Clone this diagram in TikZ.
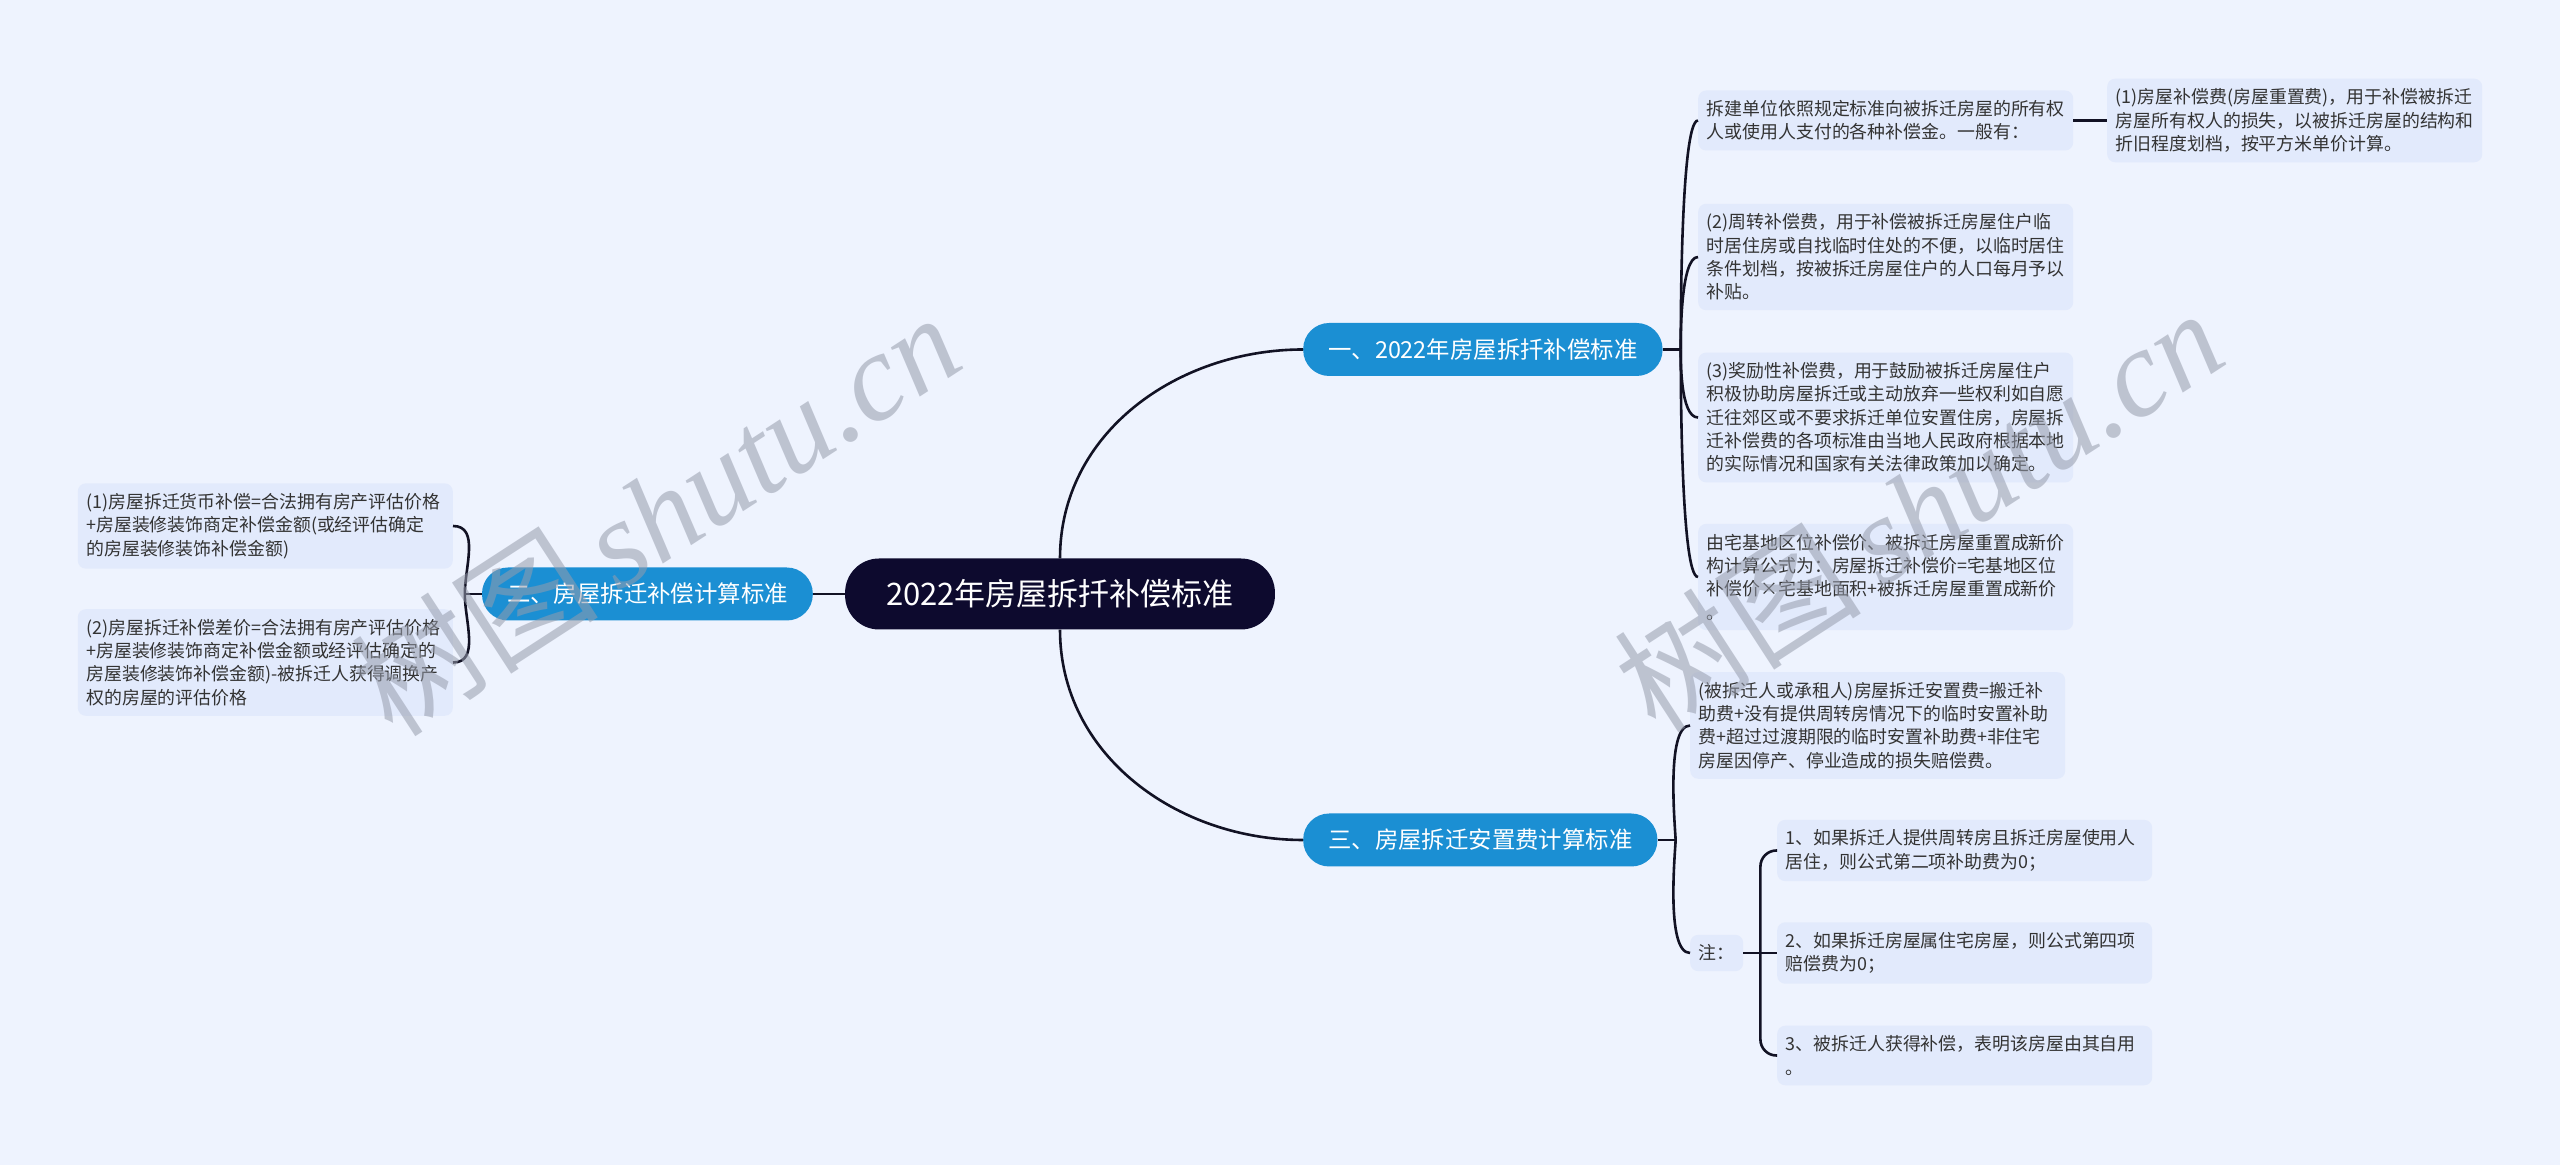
\documentclass[tikz,border=0pt]{standalone}
\usepackage{fontspec}
\setmainfont{Noto Sans CJK SC}
\newfontfamily\marklatin{Liberation Serif}
\usetikzlibrary{positioning}

\definecolor{bgblue}{RGB}{238,243,254}
\definecolor{leafblue}{RGB}{226,234,252}
\definecolor{topicblue}{RGB}{27,143,211}
\definecolor{rootnavy}{RGB}{13,10,46}
\definecolor{linkdark}{RGB}{18,18,36}
\definecolor{leaftext}{RGB}{51,51,51}
\definecolor{markgray}{RGB}{150,156,172}

\tikzset{
  root/.style={fill=rootnavy, text=white, rounded corners=34pt, minimum height=71pt,
    inner xsep=41pt, font=\fontsize{31}{36}\selectfont},
  topic/.style={fill=topicblue, text=white, rounded corners=26pt, minimum height=53pt,
    inner xsep=25pt, font=\fontsize{23.4}{28}\selectfont},
  leaf/.style={fill=leafblue, text=leaftext, rounded corners=8pt, align=left,
    text width=358pt, inner xsep=8.5pt, inner ysep=10pt,
    font=\fontsize{17.9}{23.3}\selectfont},
  link/.style={draw=linkdark, line width=2.6pt},
  wmark/.style={text=markgray, opacity=0.55, rotate=33, font=\fontsize{124}{134}\selectfont}
}

\begin{document}
\begin{tikzpicture}[x=1pt, y=1pt]
  \useasboundingbox (0,0) rectangle (2560,1165);
  \fill[bgblue] (0,0) rectangle (2560,1165);

  % centre and main topics
  \node[root] (root) at (1060,571) {2022年房屋拆扦补偿标准};
  \node[topic, anchor=west] (tp1) at (1303,815.5) {一、2022年房屋拆扦补偿标准};
  \node[topic, anchor=east] (tp2) at (813,571) {二、房屋拆迁补偿计算标准};
  \node[topic, anchor=west] (tp3) at (1303,325) {三、房屋拆迁安置费计算标准};

  % topic one
  \node[leaf, anchor=west] (p1) at (1698,1044.5) {拆建单位依照规定标准向被拆迁房屋的所有权\\人或使用人支付的各种补偿金。一般有：};
  \node[leaf, anchor=west] (p1a) at (2107,1044.5) {(1)房屋补偿费(房屋重置费)，用于补偿被拆迁\\房屋所有权人的损失，以被拆迁房屋的结构和\\折旧程度划档，按平方米单价计算。};
  \node[leaf, anchor=west] (p2) at (1698,908) {(2)周转补偿费，用于补偿被拆迁房屋住户临\\时居住房或自找临时住处的不便，以临时居住\\条件划档，按被拆迁房屋住户的人口每月予以\\补贴。};
  \node[leaf, anchor=west] (p3) at (1698,747.5) {(3)奖励性补偿费，用于鼓励被拆迁房屋住户\\积极协助房屋拆迁或主动放弃一些权利如自愿\\迁往郊区或不要求拆迁单位安置住房，房屋拆\\迁补偿费的各项标准由当地人民政府根据本地\\的实际情况和国家有关法律政策加以确定。};
  \node[leaf, anchor=west] (p4) at (1698,588) {由宅基地区位补偿价、被拆迁房屋重置成新价\\构计算公式为：房屋拆迁补偿价=宅基地区位\\补偿价×宅基地面积+被拆迁房屋重置成新价\\。};

  % topic two
  \node[leaf, anchor=east] (d1) at (453,639) {(1)房屋拆迁货币补偿=合法拥有房产评估价格\\+房屋装修装饰商定补偿金额(或经评估确定\\的房屋装修装饰补偿金额)};
  \node[leaf, anchor=east] (d2) at (453,502.5) {(2)房屋拆迁补偿差价=合法拥有房产评估价格\\+房屋装修装饰商定补偿金额或经评估确定的\\房屋装修装饰补偿金额)-被拆迁人获得调换产\\权的房屋的评估价格};

  % topic three
  \node[leaf, anchor=west] (q1) at (1690,439.5) {(被拆迁人或承租人)房屋拆迁安置费=搬迁补\\助费+没有提供周转房情况下的临时安置补助\\费+超过过渡期限的临时安置补助费+非住宅\\房屋因停产、停业造成的损失赔偿费。};
  \node[leaf, anchor=west, text width=36pt] (note) at (1690,212) {注：};
  \node[leaf, anchor=west] (n1) at (1777,314.5) {1、如果拆迁人提供周转房且拆迁房屋使用人\\居住，则公式第二项补助费为0；};
  \node[leaf, anchor=west] (n2) at (1777,212) {2、如果拆迁房屋属住宅房屋，则公式第四项\\赔偿费为0；};
  \node[leaf, anchor=west] (n3) at (1777,109.5) {3、被拆迁人获得补偿，表明该房屋由其自用\\。};

  % links
  \draw[link] (root.north) to[out=90,in=180] (tp1.west);
  \draw[link] (root.south) to[out=-90,in=180] (tp3.west);
  \draw[link] (root.west) -- (tp2.east);

  \coordinate (j1) at ([xshift=18pt]tp1.east);
  \draw[link] (tp1.east) -- (j1);
  \foreach \n/\a in {p1/90,p2/90,p3/-90,p4/-90}
    \draw[link] (j1) to[out=\a,in=180,out distance=8pt,in distance=18pt] (\n.west);
  \draw[link] (p1.east) -- (p1a.west);

  \coordinate (j2) at ([xshift=-17pt]tp2.west);
  \draw[link] (tp2.west) -- (j2);
  \draw[link] (j2) to[out=90,in=0] (d1.east);
  \draw[link] (j2) to[out=-90,in=0] (d2.east);

  \coordinate (j3) at ([xshift=18pt]tp3.east);
  \draw[link] (tp3.east) -- (j3);
  \draw[link] (j3) to[out=90,in=180,out distance=8pt,in distance=25pt] (q1.west);
  \draw[link] (j3) to[out=-90,in=180,out distance=8pt,in distance=25pt] (note.west);

  \coordinate (k) at ([xshift=17pt]note.east);
  \draw[link] (note.east) -- (n2.west);
  \draw[link, rounded corners=16pt] (k) |- (n1.west);
  \draw[link, rounded corners=16pt] (k) |- (n3.west);

  % watermark
  \node[wmark] (wm1) at (655,652) {树图\,{\marklatin\itshape shutu.cn}};
  \node[wmark] (wm2) at (1918,656) {树图\,{\marklatin\itshape shutu.cn}};
\end{tikzpicture}
\end{document}
